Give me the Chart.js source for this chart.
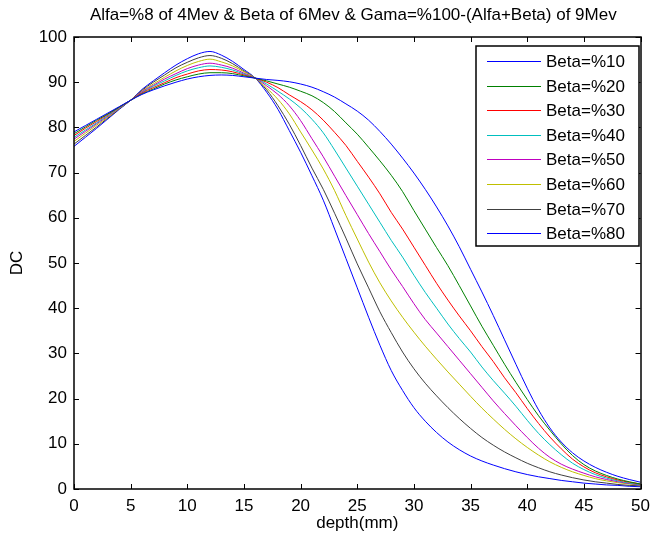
<!DOCTYPE html>
<html>
<head>
<meta charset="utf-8">
<script src="https://cdn.jsdelivr.net/npm/chart.js@4.4.1/dist/chart.umd.min.js"></script>
<style>
  body { margin: 0; background: #fff; }
  #wrap { width: 657px; height: 538px; }
</style>
</head>
<body>
<div id="wrap"><canvas id="chart" width="657" height="538"></canvas></div>
<script>
// Data
const depth = [0,1,2,3,4,5,6,7,8,9,10,11,12,13,14,15,16,17,18,19,20,21,22,23,24,25,
  26,27,28,29,30,31,32,33,34,35,36,37,38,39,40,41,42,43,44,45,46,47,48,49,50];

const beta10 = [79.0,80.4,81.8,83.2,84.6,86.0,87.3,88.3,89.2,90.0,90.7,91.2,91.5,91.6,91.5,91.2,90.9,
  90.6,90.4,90.1,89.6,88.9,87.9,86.7,85.2,83.6,81.6,79.1,76.3,73.2,69.9,66.3,62.4,58.2,53.6,48.6,
  43.6,38.4,33.0,27.6,22.3,17.5,13.5,10.4,8.0,6.2,4.8,3.7,2.8,2.1,1.5];
const beta20 = [78.6,80.1,81.6,83.0,84.5,86.0,87.4,88.5,89.6,90.5,91.2,91.8,92.1,92.1,91.9,91.4,90.9,
  90.3,89.6,88.9,88.0,87.0,85.5,83.5,81.0,78.5,75.6,72.6,69.4,65.8,61.6,57.5,53.4,49.4,45.0,40.5,
  36.0,31.8,27.6,23.6,19.8,16.2,13.0,10.0,7.4,5.4,4.0,3.0,2.2,1.6,1.1];
const beta30 = [78.2,79.8,81.3,82.9,84.5,86.0,87.6,88.8,89.9,91.0,91.8,92.5,92.8,92.7,92.3,91.6,90.9,
  90.0,88.8,87.2,85.7,83.9,81.6,78.9,76.0,72.5,69.0,65.3,61.2,57.5,53.5,49.5,45.5,41.8,38.3,35.0,
  31.5,28.2,24.6,21.3,17.8,14.5,11.5,8.9,6.6,4.9,3.6,2.7,2.0,1.5,1.1];
const beta40 = [77.8,79.4,81.0,82.7,84.4,86.0,87.7,89.1,90.3,91.5,92.5,93.2,93.6,93.3,92.7,91.8,90.9,
  89.6,88.0,86.3,84.3,81.8,78.8,75.0,71.0,67.0,63.0,59.0,55.0,51.3,47.3,43.5,40.0,36.5,33.3,30.3,
  27.0,24.0,21.2,18.3,15.2,12.3,9.8,7.6,5.7,4.3,3.2,2.4,1.8,1.3,1.0];
const beta50 = [77.4,79.1,80.8,82.5,84.3,86.0,87.9,89.3,90.7,91.9,93.0,93.8,94.2,93.8,93.1,92.0,90.9,
  89.2,87.3,84.8,81.5,77.5,73.5,69.2,64.9,60.7,56.5,52.5,48.5,44.8,41.0,37.5,34.5,31.5,28.5,25.5,
  22.5,19.5,16.7,14.0,11.4,9.0,7.0,5.5,4.4,3.5,2.7,2.1,1.6,1.2,0.9];
const beta60 = [76.9,78.7,80.5,82.3,84.2,86.0,88.0,89.6,91.1,92.5,93.7,94.6,95.1,94.5,93.6,92.3,90.9,
  88.7,86.2,83.0,79.0,75.0,70.8,66.0,60.5,55.3,50.2,45.6,41.6,38.0,34.7,31.6,28.7,25.9,23.2,20.5,
  17.9,15.5,13.2,11.1,9.2,7.5,6.0,4.8,3.8,3.0,2.3,1.8,1.4,1.1,0.9];
const beta70 = [76.3,78.2,80.1,82.1,84.1,86.0,88.2,90.0,91.6,93.2,94.4,95.4,95.9,95.3,94.1,92.5,90.9,
  88.3,84.8,80.7,76.0,71.0,66.3,61.0,55.5,49.8,44.5,39.2,34.6,30.3,26.6,23.4,20.6,18.0,15.6,13.4,
  11.4,9.7,8.2,6.9,5.7,4.7,3.8,3.1,2.5,2.0,1.6,1.3,1.0,0.8,0.7];
const beta80 = [75.8,77.8,79.8,81.9,84.0,86.0,88.4,90.3,92.1,93.8,95.2,96.3,96.8,96.0,94.6,92.8,90.9,
  87.8,84.0,79.3,74.5,69.3,63.9,57.5,51.0,44.5,38.0,31.8,26.2,21.8,18.0,15.0,12.5,10.4,8.7,7.3,
  6.2,5.3,4.5,3.8,3.2,2.7,2.3,1.9,1.6,1.3,1.1,0.9,0.8,0.6,0.5];

const seriesLabels = ['Beta=%10','Beta=%20','Beta=%30','Beta=%40','Beta=%50','Beta=%60','Beta=%70','Beta=%80'];
const seriesColors = ['#0000ff','#008000','#ff0000','#00bfbf','#bf00bf','#bfbf00','#404040','#0000ff'];
const xTicks = [0,5,10,15,20,25,30,35,40,45,50];
const yTicks = [0,10,20,30,40,50,60,70,80,90,100];

const titleText = 'Alfa=%8 of 4Mev & Beta of 6Mev & Gama=%100-(Alfa+Beta) of 9Mev';
const fontFamily = '"Liberation Sans", Arial, Helvetica, sans-serif';
const fontSize = 17;

const allSeries = [beta10, beta20, beta30, beta40, beta50, beta60, beta70, beta80];

// MATLAB-like box, inward ticks, title and legend
const matlabFrame = {
    id: 'matlabFrame',
    afterDatasetsDraw(chart) {
        const { ctx, chartArea: a, scales: { x, y } } = chart;
        ctx.save();
        ctx.strokeStyle = '#000';
        ctx.lineWidth = 1;
        ctx.beginPath();
        xTicks.forEach(v => {
            const px = Math.round(x.getPixelForValue(v)) + 0.5;
            ctx.moveTo(px, a.bottom); ctx.lineTo(px, a.bottom - 5);
            ctx.moveTo(px, a.top); ctx.lineTo(px, a.top + 5);
        });
        yTicks.forEach(v => {
            const py = Math.round(y.getPixelForValue(v)) + 0.5;
            ctx.moveTo(a.left, py); ctx.lineTo(a.left + 5, py);
            ctx.moveTo(a.right, py); ctx.lineTo(a.right - 5, py);
        });
        ctx.stroke();
        ctx.lineWidth = 1.5;
        ctx.strokeRect(Math.round(a.left), Math.round(a.top), Math.round(a.right - a.left), Math.round(a.bottom - a.top));

        // legend box, anchored to the plot's top right corner
        const lw = 163, lh = 200;
        const lx = Math.round(a.right) - lw - 2, ly = Math.round(a.top) + 9;
        ctx.fillStyle = '#fff';
        ctx.fillRect(lx, ly, lw, lh);
        ctx.lineWidth = 1.5;
        ctx.strokeRect(lx, ly, lw, lh);
        ctx.font = fontSize + 'px ' + fontFamily;
        ctx.textBaseline = 'middle';
        ctx.textAlign = 'left';
        chart.data.datasets.forEach((ds, i) => {
            const ry = Math.round(ly + 15 + i * 24.6) + 0.5;
            ctx.strokeStyle = ds.borderColor;
            ctx.lineWidth = 1;
            ctx.beginPath();
            ctx.moveTo(lx + 11, ry); ctx.lineTo(lx + 65, ry);
            ctx.stroke();
            ctx.fillStyle = '#000';
            ctx.fillText(ds.label, lx + 70, ry + 1);
        });

        // title
        ctx.textAlign = 'center';
        ctx.fillText(titleText, (a.left + a.right) / 2 - 4, 15);
        ctx.restore();
    }
};

const ctx = document.getElementById('chart').getContext('2d');
new Chart(ctx, {
    type: 'line',
    data: {
        datasets: allSeries.map((vals, i) => ({
            label: seriesLabels[i],
            data: depth.map((d, j) => ({ x: d, y: vals[j] })),
            borderColor: seriesColors[i],
            backgroundColor: seriesColors[i],
            borderWidth: 1,
            pointRadius: 0,
            cubicInterpolationMode: 'monotone',
            fill: false
        }))
    },
    options: {
        responsive: false,
        animation: false,
        devicePixelRatio: 1,
        layout: { padding: { top: 37, right: 0, left: 0, bottom: 0 } },
        plugins: {
            legend: { display: false },
            title: { display: false },
            tooltip: { enabled: false }
        },
        scales: {
            x: {
                type: 'linear',
                min: 0,
                max: 50,
                afterBuildTicks: s => { s.ticks = xTicks.map(v => ({ value: v })); },
                afterFit: s => { s.height = 49; },
                grid: { display: false, drawTicks: false },
                border: { display: false },
                ticks: { color: '#000', padding: 7, maxRotation: 0, font: { size: fontSize, family: fontFamily } },
                title: { display: true, text: 'depth(mm)', color: '#000', padding: { top: 0, bottom: 4 }, font: { size: fontSize, family: fontFamily } }
            },
            y: {
                min: 0,
                max: 100,
                afterBuildTicks: s => { s.ticks = yTicks.map(v => ({ value: v })); },
                afterFit: s => { s.width = 74; },
                grid: { display: false, drawTicks: false },
                border: { display: false },
                ticks: { color: '#000', padding: 7, font: { size: fontSize, family: fontFamily } },
                title: { display: true, text: 'DC', color: '#000', padding: { top: 7, bottom: 0 }, font: { size: fontSize, family: fontFamily } }
            }
        }
    },
    plugins: [matlabFrame]
});
</script>
</body>
</html>
